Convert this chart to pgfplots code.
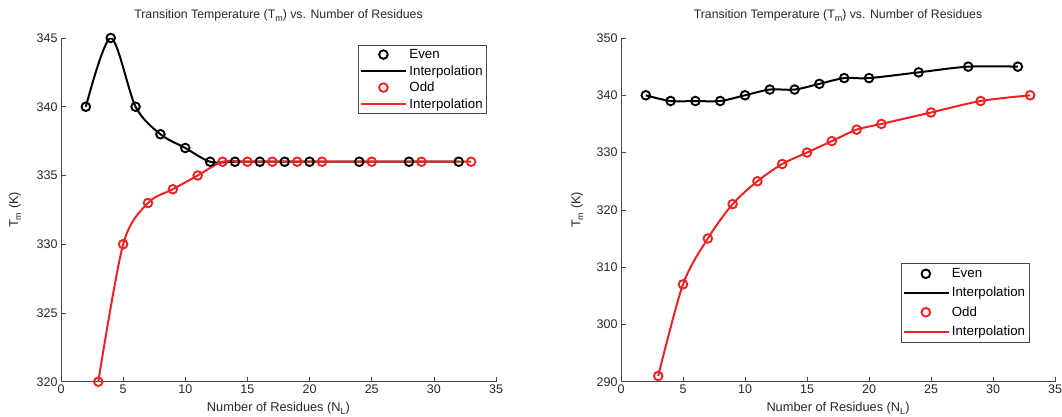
\documentclass[border=0pt]{standalone}
\usepackage{fontspec}
\setmainfont{Liberation Sans}
\usepackage{pgfplots}
\pgfplotsset{compat=1.18}

\definecolor{oddred}{RGB}{238,34,34}
\definecolor{axgray}{RGB}{70,70,70}
\definecolor{txtgray}{RGB}{40,40,40}

% lowered subscript, MATLAB-like
\newcommand{\lsub}[1]{\raisebox{-0.45ex}{\fontsize{9}{9}\selectfont #1}}

\pgfplotsset{
  tmaxis/.style={
    scale only axis,
    width=434pt, height=343.7pt,
    xmin=0, xmax=35,
    xtick={0,5,...,35},
    axis x line*=bottom, axis y line*=left,
    axis line style={axgray, line width=0.8pt},
    tick align=inside,
    major tick length=4.5pt,
    tick style={axgray, line width=0.7pt},
    /pgf/number format/assume math mode=true,
    ticklabel style={font=\fontsize{12.5}{13}\selectfont, text=txtgray},
    title={Transition Temperature (T\lsub{m}) vs. Number of Residues},
    title style={font=\fontsize{12.3}{13}\selectfont, text=txtgray,
      at={(axis description cs:0.5,1.04)}, anchor=base},
    xlabel={Number of Residues (N\lsub{L})},
    xlabel style={font=\fontsize{12.8}{13}\selectfont, text=txtgray,
      at={(axis description cs:0.5,-0.0765)}, anchor=center},
    ylabel={T\lsub{m} (K)},
    ylabel style={font=\fontsize{12.8}{13}\selectfont, text=txtgray,
      at={(axis description cs:-0.106,0.5)}, anchor=center},
    legend cell align=left,
    legend style={font=\fontsize{13.3}{13.5}\selectfont, text=black,
      draw=axgray, line width=0.7pt, inner xsep=2pt, inner ysep=2pt,
      row sep=1.5pt},
  },
  evenpts/.style={only marks, black, mark=o,
    mark size=4.3pt, mark options={line width=1.9pt},
    legend image code/.code={\draw[##1] plot coordinates {(22pt,0pt)};}},
  oddpts/.style={only marks, oddred, mark=o,
    mark size=4.3pt, mark options={line width=1.9pt},
    legend image code/.code={\draw[##1] plot coordinates {(22pt,0pt)};}},
  interp/.style={no marks, smooth, line width=2pt,
    legend image code/.code={\draw[##1] (0pt,0pt) -- (45pt,0pt);}},
}

% left panel
\pgfplotstableread{
N  Tm
2  340
4  345
6  340
8  338
10 337
12 336
14 336
16 336
18 336
20 336
24 336
28 336
32 336
}\evenA
\pgfplotstableread{
N  Tm
3  320
5  330
7  333
9  334
11 335
13 336
15 336
17 336
19 336
21 336
25 336
29 336
33 336
}\oddA
% right panel
\pgfplotstableread{
N  Tm
2  340
4  339
6  339
8  339
10 340
12 341
14 341
16 342
18 343
20 343
24 344
28 345
32 345
}\evenB
\pgfplotstableread{
N  Tm
3  291
5  307
7  315
9  321
11 325
13 328
15 330
17 332
19 334
21 335
25 337
29 339
33 340
}\oddB

\begin{document}
\begin{tikzpicture}
\useasboundingbox (0,0) rectangle (1062pt,416pt);

\begin{axis}[tmaxis,
  at={(61pt,34.3pt)}, anchor=south west,
  width=435pt,
  ymin=320, ymax=345, ytick={320,325,...,345},
  legend style={at={(axis description cs:0.683,0.98)}, anchor=north west},
]
\addplot[evenpts] table[x=N,y=Tm] {\evenA};
\addlegendentry{Even}
\addplot[interp, black] table[x=N,y=Tm] {\evenA};
\addlegendentry{Interpolation}
\addplot[oddpts] table[x=N,y=Tm] {\oddA};
\addlegendentry{Odd}
\addplot[interp, oddred] table[x=N,y=Tm] {\oddA};
\addlegendentry{Interpolation}
\end{axis}

\begin{axis}[tmaxis,
  at={(621pt,34.3pt)}, anchor=south west,
  width=434pt,
  ymin=290, ymax=350, ytick={290,300,...,350},
  ylabel style={at={(axis description cs:-0.101,0.5)}},
  legend style={at={(axis description cs:0.644,0.345)}, anchor=north west,
    row sep=4.2pt, inner ysep=3pt},
]
\addplot[evenpts] table[x=N,y=Tm] {\evenB};
\addlegendentry{Even}
\addplot[interp, black] table[x=N,y=Tm] {\evenB};
\addlegendentry{Interpolation}
\addplot[oddpts] table[x=N,y=Tm] {\oddB};
\addlegendentry{Odd}
\addplot[interp, oddred] table[x=N,y=Tm] {\oddB};
\addlegendentry{Interpolation}
\end{axis}
\end{tikzpicture}
\end{document}
